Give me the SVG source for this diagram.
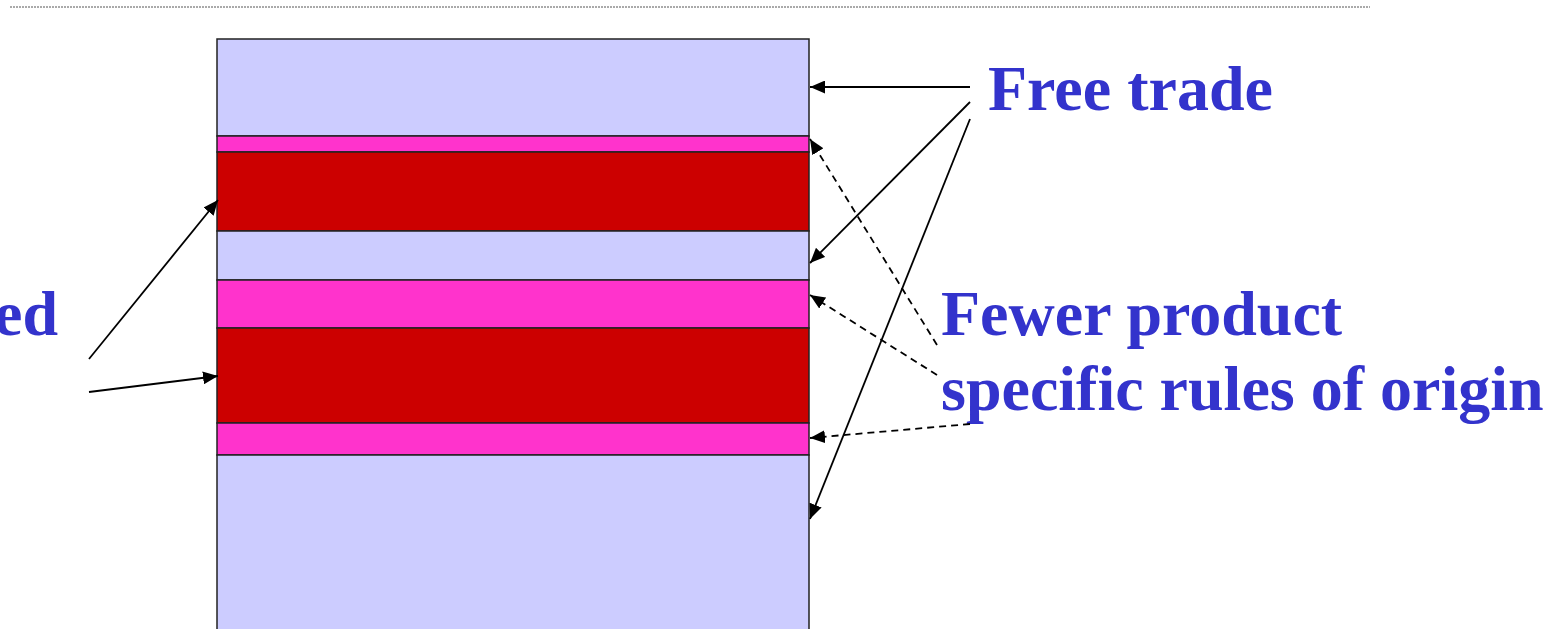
<svg xmlns="http://www.w3.org/2000/svg" width="1560" height="629" viewBox="0 0 1560 629">
<style>
.lt{fill:#CCCCFF;stroke:#222;stroke-width:1.5}
.pk{fill:#FF33CC;stroke:#222;stroke-width:1.5}
.rd{fill:#CC0000;stroke:#222;stroke-width:1.5}
.lbl{font-family:"Liberation Serif","Times New Roman",serif;font-weight:bold;font-size:64px;fill:#3333CC}
.s{stroke:#000;stroke-width:1.8;fill:none;marker-end:url(#ah)}
.d{stroke:#000;stroke-width:1.8;fill:none;stroke-dasharray:7 5;marker-end:url(#ah)}
</style>
<defs>
<marker id="ah" viewBox="0 0 10 10" refX="10" refY="5" markerWidth="15" markerHeight="13" markerUnits="userSpaceOnUse" orient="auto" preserveAspectRatio="none"><path d="M0,0L10,5L0,10z" fill="#000"/></marker>
</defs>
<rect width="1560" height="629" fill="#fff"/>
<line x1="10" y1="7" x2="1370" y2="7" stroke="#555" stroke-width="1" stroke-dasharray="2 1"/>
<g id="bar">
<rect class="lt" x="217" y="39" width="592" height="97"/>
<rect class="pk" x="217" y="136" width="592" height="16"/>
<rect class="rd" x="217" y="152" width="592" height="79"/>
<rect class="lt" x="217" y="231" width="592" height="49"/>
<rect class="pk" x="217" y="280" width="592" height="48"/>
<rect class="rd" x="217" y="328" width="592" height="95"/>
<rect class="pk" x="217" y="423" width="592" height="32"/>
<rect class="lt" x="217" y="455" width="592" height="180"/>
</g>
<g id="free-trade"><text class="lbl" x="988" y="110">Free trade</text></g>
<g id="fewer"><text class="lbl" x="941" y="335">Fewer product</text><text class="lbl" x="941" y="410">specific rules of origin</text></g>
<g id="left-label"><text class="lbl" x="-6" y="335">ed</text></g>
<g id="connectors">
<line class="s" x1="970" y1="87" x2="810" y2="87"/>
<line class="s" x1="970" y1="102" x2="810" y2="263"/>
<line class="s" x1="970" y1="119" x2="810" y2="519"/>
<line class="d" x1="937" y1="345" x2="810" y2="139"/>
<line class="d" x1="937" y1="375" x2="810" y2="295"/>
<line class="d" x1="970" y1="424" x2="810" y2="438"/>
<line class="s" x1="89" y1="359" x2="218" y2="200"/>
<line class="s" x1="89" y1="392" x2="218" y2="376"/>
</g>
</svg>
